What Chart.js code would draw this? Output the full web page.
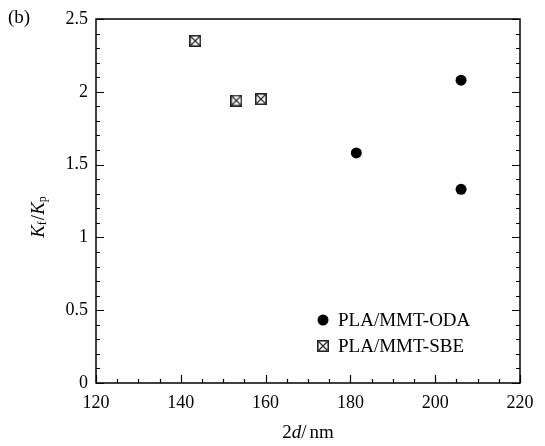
<!DOCTYPE html>
<html>
<head>
<meta charset="utf-8">
<script src="https://cdn.jsdelivr.net/npm/chart.js@4.4.0/dist/chart.umd.min.js"></script>
<style>
html, body { margin: 0; padding: 0; background: #fff; }
#wrap { width: 545px; height: 446px; }
</style>
</head>
<body>
<div id="wrap"><canvas id="canvas" width="545" height="446"></canvas></div>
<script>
// data
var odaX = [181.4, 206.1, 206.1];
var odaY = [1.58, 2.08, 1.33];
var sbeX = [143.4, 153.1, 158.9];
var sbeY = [2.35, 1.94, 1.95];
var seriesNames = ['PLA/MMT-ODA', 'PLA/MMT-SBE'];
var xTicks = [120, 140, 160, 180, 200, 220];
var yTicks = [0, 0.5, 1, 1.5, 2, 2.5];

var FONT = '"Liberation Serif", "DejaVu Serif", serif';

function toPoints(xs, ys) {
    var out = [];
    for (var i = 0; i < xs.length; i++) {
        out.push({x: xs[i], y: ys[i]});
    }
    return out;
}

// square with a cross, used for the SBE series
function boxCross() {
    var c = document.createElement('canvas');
    c.width = 12;
    c.height = 12;
    var g = c.getContext('2d');
    g.fillStyle = '#fff';
    g.fillRect(0, 0, 12, 12);
    g.strokeStyle = '#222';
    g.lineWidth = 1.6;
    g.strokeRect(0.8, 0.8, 10.4, 10.4);
    g.lineWidth = 1.2;
    g.beginPath();
    g.moveTo(1.5, 1.5); g.lineTo(10.5, 10.5);
    g.moveTo(10.5, 1.5); g.lineTo(1.5, 10.5);
    g.stroke();
    return c;
}
var boxMarker = boxCross();

// draws a run of pieces, each with its own style
function drawRuns(ctx, runs, x, y) {
    var cx = x;
    runs.forEach(function (r) {
        var size = r.sub ? 12 : 19;
        ctx.font = (r.italic ? 'italic ' : '') + size + 'px ' + FONT;
        ctx.fillText(r.t, cx, y + (r.sub ? 4 : 0));
        cx += ctx.measureText(r.t).width + (r.gap || 0);
    });
    return cx - x;
}
function runsWidth(ctx, runs) {
    var w = 0;
    runs.forEach(function (r) {
        var size = r.sub ? 12 : 19;
        ctx.font = (r.italic ? 'italic ' : '') + size + 'px ' + FONT;
        w += ctx.measureText(r.t).width + (r.gap || 0);
    });
    return w;
}

var framePlugin = {
    id: 'frame',
    afterDatasetsDraw: function (chart) {
        var ctx = chart.ctx;
        var a = chart.chartArea;
        var xs = chart.scales.x, ys = chart.scales.y;
        ctx.save();
        ctx.strokeStyle = '#000';
        ctx.lineWidth = 1.5;
        ctx.strokeRect(a.left, a.top, a.right - a.left, a.bottom - a.top);

        ctx.lineWidth = 1.2;
        ctx.beginPath();
        for (var v = 120; v <= 220; v += 5) {
            var px = Math.round(xs.getPixelForValue(v)) + 0.5;
            var len = (v % 20 === 0) ? 8 : 4;
            ctx.moveTo(px, a.bottom);
            ctx.lineTo(px, a.bottom - len);
        }
        for (var i = 0; i <= 25; i++) {
            var py = Math.round(ys.getPixelForValue(i / 10)) + 0.5;
            var l2 = (i % 5 === 0) ? 8 : 4;
            ctx.moveTo(a.left, py);
            ctx.lineTo(a.left + l2, py);
            ctx.moveTo(a.right, py);
            ctx.lineTo(a.right - l2, py);
        }
        ctx.stroke();

        ctx.fillStyle = '#000';
        ctx.textBaseline = 'middle';
        ctx.textAlign = 'left';

        // panel label
        ctx.font = '19px ' + FONT;
        ctx.fillText('(b)', 8, 18);

        // x title
        var xRuns = [{t: '2'}, {t: 'd', italic: true}, {t: '/', gap: 3}, {t: 'nm'}];
        var xw = runsWidth(ctx, xRuns);
        drawRuns(ctx, xRuns, (a.left + a.right) / 2 - xw / 2, 433);

        // y title, rotated
        var yRuns = [{t: 'K', italic: true}, {t: 'f', sub: true, gap: 1}, {t: '/'},
                     {t: 'K', italic: true}, {t: 'p', sub: true}];
        var yw = runsWidth(ctx, yRuns);
        ctx.save();
        ctx.translate(39, 217);
        ctx.rotate(-Math.PI / 2);
        drawRuns(ctx, yRuns, -yw / 2, 0);
        ctx.restore();

        // legend
        var rows = [320, 346];
        ctx.font = '19px ' + FONT;
        ctx.fillStyle = '#000';
        ctx.beginPath();
        ctx.arc(323, rows[0], 5.5, 0, Math.PI * 2);
        ctx.fill();
        ctx.drawImage(boxMarker, 323 - 6, rows[1] - 6);
        ctx.fillText(seriesNames[0], 338, rows[0] + 1);
        ctx.fillText(seriesNames[1], 338, rows[1] + 1);
        ctx.restore();
    }
};

var ctx = document.getElementById('canvas').getContext('2d');
var myChart = new Chart(ctx, {
    type: 'scatter',
    data: {
        datasets: [{
            label: seriesNames[0],
            data: toPoints(odaX, odaY),
            pointStyle: 'circle',
            pointRadius: 5.5,
            pointHoverRadius: 5.5,
            backgroundColor: '#000',
            borderColor: '#000',
            borderWidth: 0
        }, {
            label: seriesNames[1],
            data: toPoints(sbeX, sbeY),
            pointStyle: boxMarker,
            pointRadius: 6,
            backgroundColor: '#fff',
            borderColor: '#222'
        }]
    },
    options: {
        responsive: false,
        animation: false,
        events: [],
        layout: { padding: { left: 0, top: 19, right: 25, bottom: 0 } },
        plugins: {
            legend: { display: false },
            tooltip: { enabled: false },
            title: { display: false }
        },
        scales: {
            x: {
                type: 'linear',
                min: 120,
                max: 220,
                afterBuildTicks: function (scale) {
                    scale.ticks = xTicks.map(function (v) { return {value: v}; });
                },
                afterFit: function (scale) { scale.height = 63; },
                grid: { display: false, drawTicks: false },
                border: { display: false },
                ticks: {
                    padding: 9,
                    color: '#000',
                    maxRotation: 0,
                    font: { family: FONT, size: 18 }
                }
            },
            y: {
                type: 'linear',
                min: 0,
                max: 2.5,
                afterBuildTicks: function (scale) {
                    scale.ticks = yTicks.map(function (v) { return {value: v}; });
                },
                afterFit: function (scale) { scale.width = 96; },
                grid: { display: false, drawTicks: false },
                border: { display: false },
                ticks: {
                    padding: 8,
                    color: '#000',
                    font: { family: FONT, size: 18 },
                    callback: function (v) { return String(v); }
                }
            }
        }
    },
    plugins: [framePlugin]
});
</script>
</body>
</html>
